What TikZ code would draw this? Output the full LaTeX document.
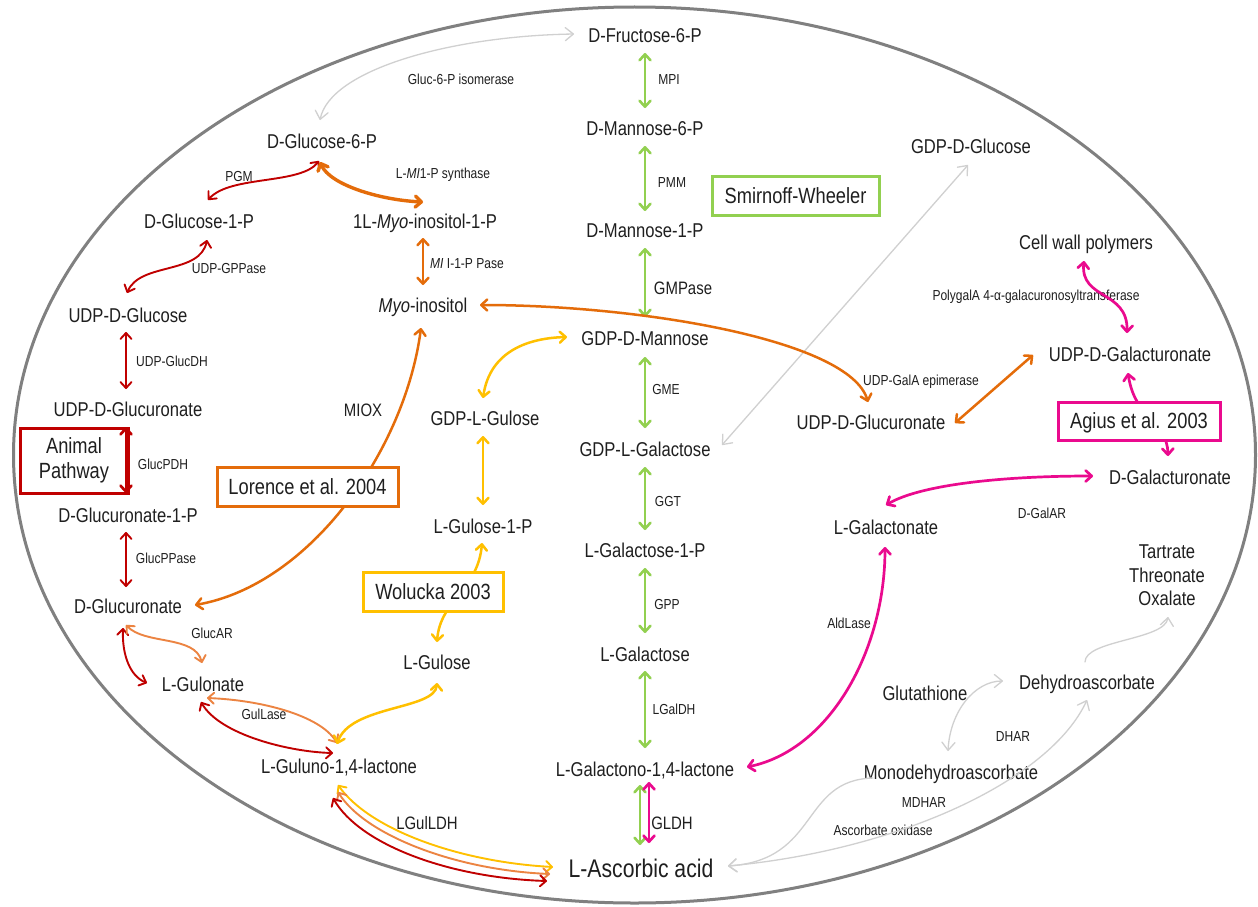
\documentclass[tikz,border=0pt]{standalone}
\usepackage{fontspec}
\setmainfont{Liberation Sans}[FakeStretch=0.83]
\usetikzlibrary{arrows.meta,calc}
\definecolor{cgrn}{HTML}{92D050}
\definecolor{cred}{HTML}{C00000}
\definecolor{corg}{HTML}{E46C0A}
\definecolor{corgl}{HTML}{EC8442}
\definecolor{cyel}{HTML}{FFC000}
\definecolor{cmag}{HTML}{EA0A8E}
\definecolor{cgry}{HTML}{D0D0D0}
\definecolor{cell}{HTML}{808080}
\definecolor{ctxt}{HTML}{1F1F1F}
\tikzset{
  tipn/.tip={Straight Barb[length=6pt,width=11pt,round]},
  tipg/.tip={Straight Barb[length=8pt,width=13pt,round]},
  lbl/.style={font=\fontsize{20}{24}\selectfont, text=ctxt, inner sep=0pt, text height=14.4pt, text depth=0pt},
  enz/.style={font=\fontsize{14.5}{17}\selectfont, text=ctxt, inner sep=0pt, text height=10.4pt, text depth=0pt},
  enzm/.style={font=\fontsize{18}{21}\selectfont, text=ctxt, inner sep=0pt, text height=12.9pt, text depth=0pt},
  bigl/.style={font=\fontsize{25.5}{30}\selectfont, text=ctxt, inner sep=0pt, text height=18.3pt, text depth=0pt},
  refbox/.style={line width=3pt, fill=white, font=\fontsize{22}{25}\selectfont, text=ctxt, inner sep=0pt, text height=15.8pt, text depth=0pt},
  cn/.style={{tipn}-{tipn}, line cap=round, line join=round},
  grnc/.style={cn, draw=cgrn, line width=2.6pt},
  redc/.style={cn, draw=cred, line width=1.9pt},
  orgc/.style={cn, draw=corg, line width=2.5pt},
  orgt/.style={cn, draw=corg, line width=3.4pt},
  orgl/.style={cn, draw=corgl, line width=1.9pt},
  yelc/.style={cn, draw=cyel, line width=2.5pt},
  magc/.style={cn, draw=cmag, line width=2.7pt},
  gryc/.style={{tipg}-{tipg}, draw=cgry, line width=1.3pt, line cap=round},
  gryend/.style={-{tipg}, draw=cgry, line width=1.3pt, line cap=round},
}
\begin{document}
\begin{tikzpicture}[x=1pt,y=-1pt]
\useasboundingbox (0,0) rectangle (1258,907);
\fill[white] (0,0) rectangle (1258,907);
\draw[cell, line width=3pt] (634.5,455) ellipse [x radius=621pt, y radius=448pt];

% main compounds
\node[lbl] (fru) at (645,35) {D-Fructose-6-P};
\node[lbl] (man6) at (645,128) {D-Mannose-6-P};
\node[lbl] (man1) at (645,230) {D-Mannose-1-P};
\node[lbl] (gdpman) at (645,338) {GDP-D-Mannose};
\node[lbl] (gdpgal) at (645,449) {GDP-L-Galactose};
\node[lbl] (lgal1p) at (645,550) {L-Galactose-1-P};
\node[lbl] (lgal) at (645,654) {L-Galactose};
\node[lbl] (lgalono) at (645,769) {L-Galactono-1,4-lactone};
\node[bigl] (asc) at (641,868) {L-Ascorbic acid};
\node[lbl] (gdpglc) at (971,146) {GDP-D-Glucose};
\node[lbl] (cellwall) at (1086,242) {Cell wall polymers};
\node[lbl] (udpgala) at (1130,354) {UDP-D-Galacturonate};
\node[lbl] (udpglcar) at (871,422) {UDP-D-Glucuronate};
\node[lbl] (dgala) at (1170,477) {D-Galacturonate};
\node[lbl] (lgalnate) at (886,527) {L-Galactonate};
\node[lbl] (tartrate) at (1167,551) {Tartrate};
\node[lbl] (threonate) at (1167,575) {Threonate};
\node[lbl] (oxalate) at (1167,598) {Oxalate};
\node[lbl] (dha) at (1087,682) {Dehydroascorbate};
\node[lbl] (glut) at (925,693) {Glutathione};
\node[lbl] (mda) at (951,772) {Monodehydroascorbate};
\node[lbl] (g6p) at (322,141) {D-Glucose-6-P};
\node[lbl] (g1p) at (199,221) {D-Glucose-1-P};
\node[lbl] (mi1p) at (425,221) {1L-\textit{Myo}-inositol-1-P};
\node[lbl] (myo) at (423,305) {\textit{Myo}-inositol};
\node[lbl] (udpglc) at (128,315) {UDP-D-Glucose};
\node[lbl] (udpglcal) at (128,409) {UDP-D-Glucuronate};
\node[lbl] (glca1p) at (128,515) {D-Glucuronate-1-P};
\node[lbl] (glca) at (128,606) {D-Glucuronate};
\node[lbl] (gulonate) at (203,684) {L-Gulonate};
\node[lbl] (gulono) at (339,766) {L-Guluno-1,4-lactone};
\node[lbl] (gdplgul) at (485,418) {GDP-L-Gulose};
\node[lbl] (lgul1p) at (483,526) {L-Gulose-1-P};
\node[lbl] (lgul) at (437,662) {L-Gulose};

% enzyme labels
\node[enz] (isom) at (461,79) {Gluc-6-P isomerase};
\node[enz] (mpi) at (669,79) {MPI};
\node[enz] (misyn) at (443,173) {L-\textit{MI}1-P synthase};
\node[enz] (pmm) at (672,182) {PMM};
\node[enz] (pgm) at (239,176) {PGM};
\node[enz] (udpgpp) at (229,268) {UDP-GPPase};
\node[enz] (mipase) at (467,263) {\textit{MI} I-1-P Pase};
\node[enzm] (gmpase) at (683,288) {GMPase};
\node[enz] (udpglcdh) at (172,361) {UDP-GlucDH};
\node[enzm] (miox) at (363,410) {MIOX};
\node[enz] (glucpdh) at (163,464) {GlucPDH};
\node[enz] (glucppase) at (166,558) {GlucPPase};
\node[enz] (gme) at (666,389) {GME};
\node[enz] (ggt) at (668,501) {GGT};
\node[enz] (gpp) at (667,604) {GPP};
\node[enz] (lgaldh) at (674,709) {LGalDH};
\node[enzm] (gldh) at (672,823) {GLDH};
\node[enzm] (lgulldh) at (427,823) {LGulLDH};
\node[enz] (glucar) at (212,633) {GlucAR};
\node[enz] (gullase) at (264,714) {GulLase};
\node[enz] (epim) at (921,380) {UDP-GalA epimerase};
\node[enz] (polyg) at (1036,295) {PolygalA 4-α-galacuronosyltransferase};
\node[enz] (dgalar) at (1042,513) {D-GalAR};
\node[enz] (aldlase) at (849,623) {AldLase};
\node[enz] (dhar) at (1013,736) {DHAR};
\node[enz] (mdhar) at (924,802) {MDHAR};
\node[enz] (aox) at (883,830) {Ascorbate oxidase};

% animal pathway box (under the red arrow)
\node[draw=cred, line width=3pt, minimum width=108pt, minimum height=65pt, align=center,
      font=\fontsize{22}{25}\selectfont, text=ctxt, inner sep=0pt] (animal) at (74,460.5) {Animal\\Pathway};

% gray connectors
\draw[gryc] ($(g6p)+(-2,-21)$) .. controls +(10,-50) and +(-124,2) .. ($(fru)+(-71,-1)$);
\draw[gryc] ($(gdpglc)+(-3,19)$) -- ($(gdpgal)+(77,-4)$);
\draw[gryc] ($(mda)+(-3,-21)$) .. controls +(2,-40) and +(-28,0) .. ($(dha)+(-84,-1)$);
\draw[gryend] ($(dha)+(-2,-20)$) .. controls +(0,-22) and +(-3,23) .. ($(oxalate)+(1,19)$);
\draw[gryc] ($(asc)+(87,-2)$) .. controls +(172,-16) and +(-37,80) .. ($(dha)+(0,18)$);
\draw[gryend] ($(mda)+(-78,6)$) .. controls +(-73,2) and +(92,-6) .. ($(asc)+(87,-2)$);

% green (Smirnoff-Wheeler)
\draw[grnc] ($(fru)+(0,18)$) -- ($(man6)+(0,-20)$);
\draw[grnc] ($(man6)+(0,18)$) -- ($(man1)+(0,-19)$);
\draw[grnc] ($(man1)+(0,18)$) -- ($(gdpman)+(0,-21)$);
\draw[grnc] ($(gdpman)+(0,19)$) -- ($(gdpgal)+(0,-21)$);
\draw[grnc] ($(gdpgal)+(0,18)$) -- ($(lgal1p)+(0,-20)$);
\draw[grnc] ($(lgal1p)+(0,18)$) -- ($(lgal)+(0,-21)$);
\draw[grnc] ($(lgal)+(0,17)$) -- ($(lgalono)+(0,-21)$);
\draw[grnc] ($(lgalono)+(-5,16)$) -- ($(asc)+(-1,-23)$);
\draw[magc] ($(lgalono)+(4,13)$) -- ($(asc)+(8,-25)$);

% red (animal)
\draw[redc] ($(g1p)+(9,-21)$) .. controls +(22,-25) and +(-19,24) .. ($(g6p)+(-3,20)$);
\draw[redc] ($(udpglc)+(-1,-22)$) .. controls +(13,-31) and +(-7,35) .. ($(g1p)+(8,19)$);
\draw[redc] ($(udpglc)+(-2,17)$) -- ($(udpglcal)+(-2,-20)$);
\draw[redc, line width=2.7pt] ($(udpglcal)+(-2,18)$) -- ($(glca1p)+(-2,-22)$);
\draw[redc] ($(glca1p)+(-2,17)$) -- ($(glca)+(-2,-19)$);
\draw[redc] ($(glca)+(-5,22)$) .. controls +(-1,27) and +(-17,-7) .. ($(gulonate)+(-56,-1)$);
\draw[redc] ($(gulonate)+(-2,18)$) .. controls +(19,33) and +(-43,-1) .. ($(gulono)+(-6,-13)$);

% orange (Lorence)
\draw[orgt] ($(g6p)+(-2,21)$) .. controls +(10,23) and +(-43,-2) .. ($(mi1p)+(-2,-19)$);
\draw[orgc] ($(mi1p)+(-2,17)$) -- ($(myo)+(0,-20)$);
\draw[orgc] ($(glca)+(67,-1)$) .. controls +(115,-20) and +(-16,122) .. ($(myo)+(-2,23)$);
\draw[orgc] ($(myo)+(57,0)$) .. controls +(160,0) and +(-18,-62) .. ($(udpglcar)+(-3,-20)$);
\draw[orgc] ($(udpglcar)+(84,1)$) -- ($(udpgala)+(-97,1)$);
\draw[orgl] ($(glca)+(-2,19)$) .. controls +(19,20) and +(-7,-28) .. ($(gulonate)+(-1,-21)$);
\draw[orgl] ($(gulonate)+(4,14)$) .. controls +(53,2) and +(-17,-28) .. ($(gulono)+(-2,-23)$);

% yellow (Wolucka)
\draw[yelc] ($(gdplgul)+(-2,-20)$) .. controls +(7,-48) and +(-37,1) .. ($(gdpman)+(-78,-1)$);
\draw[yelc] ($(gdplgul)+(-2,18)$) -- ($(lgul1p)+(0,-21)$);
\draw[yelc] ($(lgul1p)+(-1,17)$) .. controls +(-4,47) and +(3,-42) .. ($(lgul)+(0,-20)$);
\draw[yelc] ($(lgul)+(0,21)$) .. controls +(-2,27) and +(13,-39) .. ($(gulono)+(-2,-22)$);

% LGulLDH triple
\draw[yelc, line width=1.9pt] ($(gulono)+(-1,19)$) .. controls +(32,45) and +(-93,-5) .. ($(asc)+(-88,-1)$);
\draw[orgl] ($(gulono)+(-1,26)$) .. controls +(27,43) and +(-95,-4) .. ($(asc)+(-91,6)$);
\draw[redc] ($(gulono)+(-6,32)$) .. controls +(27,47) and +(-97,-3) .. ($(asc)+(-94,13)$);

% magenta (Agius)
\draw[magc] ($(cellwall)+(-2,19)$) .. controls +(-4,39) and +(1,-43) .. ($(udpgala)+(-3,-21)$);
\draw[magc] ($(udpgala)+(-2,19)$) .. controls +(7,47) and +(-1,-36) .. ($(dgala)+(-2,-21)$);
\draw[magc] ($(lgalnate)+(0,-22)$) .. controls +(34,-20) and +(-93,0) .. ($(dgala)+(-77,-1)$);
\draw[magc] ($(lgalnate)+(-1,20)$) .. controls +(0,103) and +(83,-17) .. ($(lgalono)+(102,-2)$);

% reference boxes
\node[refbox, draw=cgrn, minimum width=167pt, minimum height=39pt] (sw) at (795.5,195.5) {Smirnoff-Wheeler};
\node[refbox, draw=corg, minimum width=181pt, minimum height=39pt] (lor) at (307.5,486.5) {Lorence et al. 2004};
\node[refbox, draw=cyel, minimum width=140pt, minimum height=39pt] (wol) at (433,591.5) {Wolucka 2003};
\node[refbox, draw=cmag, minimum width=162pt, minimum height=38pt] (agi) at (1139,421) {Agius et al. 2003};
\end{tikzpicture}
\end{document}
